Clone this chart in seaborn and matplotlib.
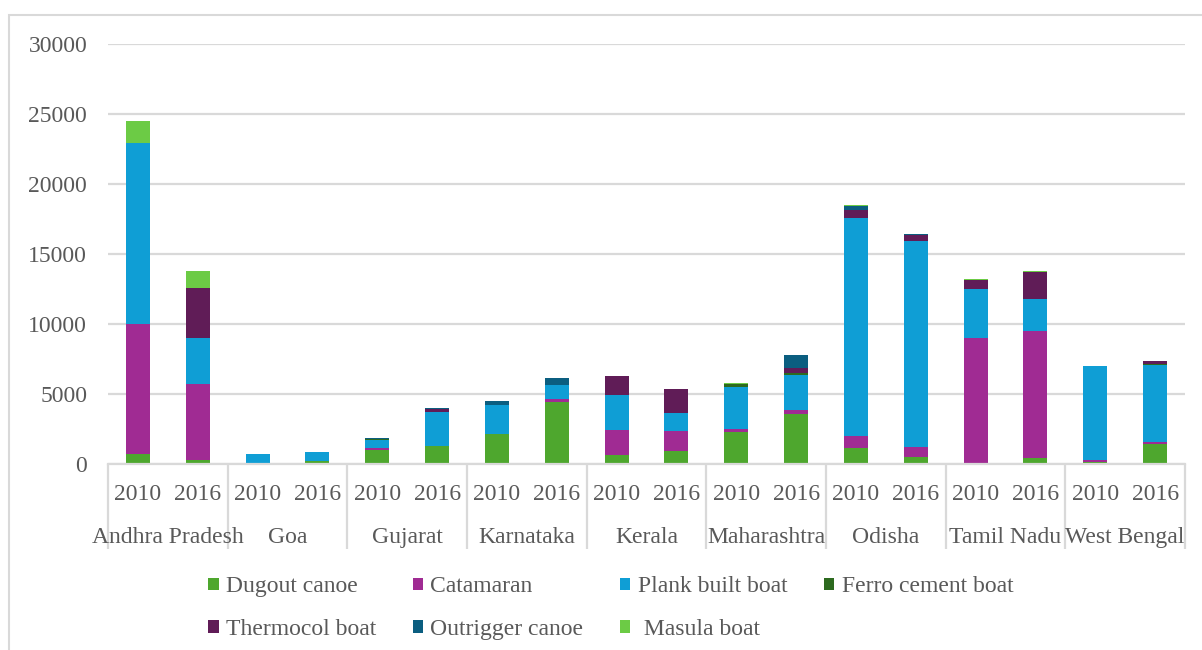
import matplotlib
matplotlib.use("Agg")
import matplotlib.pyplot as plt
import matplotlib.transforms as mtransforms
from matplotlib.patches import Patch, Rectangle
import numpy as np
import pandas as pd
import seaborn as sns

# ---- data -------------------------------------------------------------
states = ["Andhra Pradesh", "Goa", "Gujarat", "Karnataka", "Kerala",
          "Maharashtra", "Odisha", "Tamil Nadu", "West Bengal"]
years = ["2010", "2016"]
boat_types = ["Dugout canoe", "Catamaran", "Plank built boat", "Ferro cement boat",
              "Thermocol boat", "Outrigger canoe", "Masula boat"]

# one entry per bar: state/year pairs in order (2010, 2016 for each state)
dugout_canoe    = [700, 300, 30, 200, 1000, 1300, 2150, 4450, 620, 900,
                   2300, 3600, 1170, 500, 70, 430, 170, 1430]
catamaran       = [9300, 5400, 0, 0, 150, 0, 0, 170, 1790, 1450,
                   180, 290, 810, 740, 8930, 9050, 140, 120]
plank_built     = [12900, 3300, 650, 650, 580, 2400, 2050, 1050, 2540, 1290,
                   3050, 2480, 15570, 14690, 3500, 2290, 6690, 5520]
ferro_cement    = [0, 0, 0, 0, 60, 0, 0, 0, 0, 0,
                   200, 140, 0, 0, 0, 0, 0, 50]
thermocol       = [0, 3600, 0, 0, 0, 250, 0, 0, 1350, 1700,
                   0, 380, 620, 450, 670, 1930, 0, 240]
outrigger_canoe = [0, 0, 0, 0, 40, 50, 300, 500, 0, 50,
                   0, 860, 240, 70, 0, 0, 0, 0]
masula_boat     = [1600, 1200, 0, 0, 0, 0, 0, 0, 0, 0,
                   50, 0, 70, 0, 50, 90, 0, 0]

colors = ["#4EA72E", "#A02B93", "#0F9ED5", "#2D6A1F",
          "#601C57", "#0B5E80", "#6CCB45"]

series = [dugout_canoe, catamaran, plank_built, ferro_cement,
          thermocol, outrigger_canoe, masula_boat]

# long-form table: one row per (bar, boat type)
rows = []
for b, vals in zip(boat_types, series):
    for i, v in enumerate(vals):
        rows.append({"pos": i, "state": states[i // 2], "year": years[i % 2],
                     "boat": b, "count": v})
df = pd.DataFrame(rows)

# ---- figure -------------------------------------------------------------
sns.set_theme(style="white")
plt.rcParams["font.family"] = ["Liberation Serif", "DejaVu Serif"]
text_col = "#595959"
grid_col = "#D9D9D9"
fs = 17

fig = plt.figure(figsize=(12.02, 6.5), dpi=100)
ax = fig.add_axes([108 / 1202, 1 - 464 / 650, (1185 - 108) / 1202, 420 / 650])

# histplot stacks the last hue level at the bottom, so reverse the order
sns.histplot(data=df, x="pos", hue="boat", weights="count",
             hue_order=boat_types[::-1],
             palette=dict(zip(boat_types, colors)),
             multiple="stack", discrete=True, shrink=0.4,
             alpha=1, linewidth=0, legend=False, ax=ax)

n_bars = len(dugout_canoe)
ax.set_xlim(-0.5, n_bars - 0.5)
ax.set_ylim(0, 30000)
ax.set_yticks(np.arange(0, 30001, 5000))
ax.yaxis.grid(True, color=grid_col, linewidth=1.6)
ax.set_axisbelow(True)
for s in ["top", "right", "left"]:
    ax.spines[s].set_visible(False)
ax.spines["bottom"].set_color(grid_col)
ax.spines["bottom"].set_linewidth(1.6)
ax.set_xlabel("")
ax.set_ylabel("")

ax.tick_params(axis="y", length=0, pad=15, labelsize=fs, labelcolor=text_col)

# year labels under each bar
ax.set_xticks(np.arange(n_bars))
ax.set_xticklabels([years[i % 2] for i in range(n_bars)])
ax.tick_params(axis="x", which="major", bottom=False, length=0, pad=14.5,
               labelsize=fs, labelcolor=text_col)

# group separators drawn as long minor ticks
ax.set_xticks(np.arange(-0.5, n_bars, 2), minor=True)
ax.tick_params(axis="x", which="minor", bottom=True, length=61, width=1.6,
               color=grid_col, direction="out")

# state names centred under each pair of bars
trans = mtransforms.blended_transform_factory(ax.transData, ax.transAxes)
for k, st in enumerate(states):
    ax.text(2 * k + 0.5, -79 / 420, st, transform=trans, ha="center",
            va="baseline", fontsize=fs, color=text_col)

# legend
handles = [Patch(facecolor=c, edgecolor="none") for c in colors]
labels = list(boat_types)
labels[6] = " Masula boat"
order = [0, 4, 1, 5, 2, 6, 3]
fig.legend([handles[i] for i in order], [labels[i] for i in order],
           ncol=4, loc="center left", bbox_to_anchor=(208 / 1202, 1 - 608 / 650),
           frameon=False, fontsize=fs, labelcolor=text_col,
           handlelength=0.45, handleheight=0.45, handletextpad=0.3,
           columnspacing=1.55, labelspacing=0.9, borderpad=0, borderaxespad=0)

# outer chart border
fig.patches.append(Rectangle((9 / 1202, -0.05), 1.2, 1 - 15 / 650 + 0.05,
                             transform=fig.transFigure, fill=False,
                             edgecolor=grid_col, linewidth=1.5))

fig.savefig("out.png", dpi=100)
